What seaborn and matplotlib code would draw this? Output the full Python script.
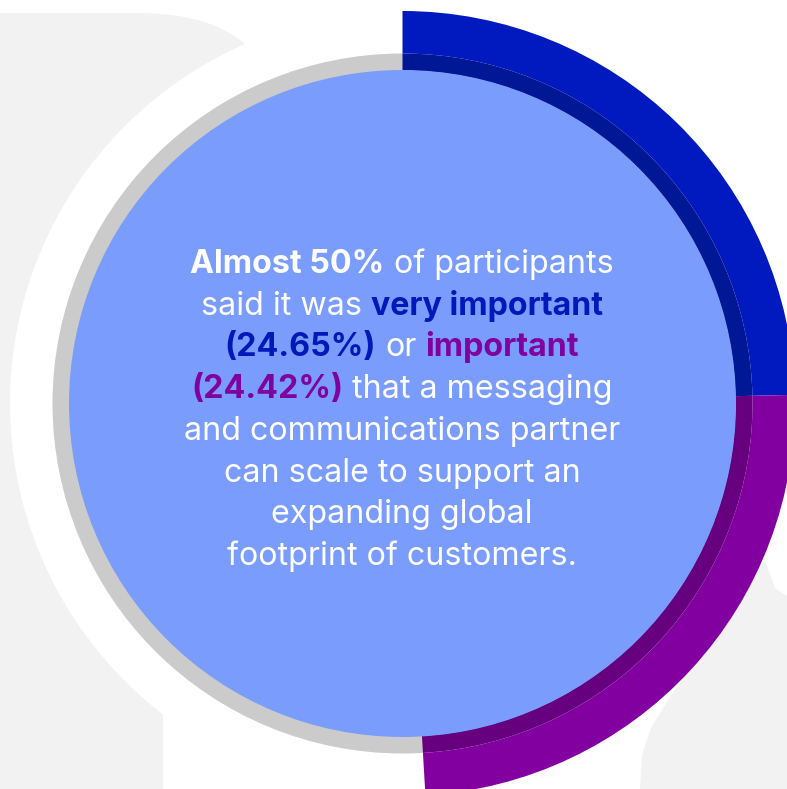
import matplotlib
matplotlib.use("Agg")
import matplotlib.pyplot as plt
from matplotlib.patches import Circle, FancyBboxPatch, Rectangle, Polygon
import seaborn as sns

# shares of respondents (percent)
shares = [24.65, 24.42]
rest = 100 - sum(shares)

arc_colors = ["#001abf", "#8200a0"]
band_colors = ["#001796", "#66007e"]
disc_color = "#7a9cfd"
ring_color = "#cbcbcb"
bg_gray = "#f2f2f2"
c_blue = "#0019b8"
c_purple = "#8000a0"

lines = [
    [("Almost 50%", "bold", "white"), ("of participants", "normal", "white")],
    [("said it was", "normal", "white"), ("very important", "bold", c_blue)],
    [("(%.2f%%)" % shares[0], "bold", c_blue), ("or", "normal", "white"),
     ("important", "bold", c_purple)],
    [("(%.2f%%)" % shares[1], "bold", c_purple), ("that a messaging", "normal", "white")],
    [("and communications partner", "normal", "white")],
    [("can scale to support an", "normal", "white")],
    [("expanding global", "normal", "white")],
    [("footprint of customers.", "normal", "white")],
]

sns.set_style("white")
FONT = ["Inter", "DejaVu Sans"]
plt.rcParams["font.family"] = FONT

W, H = 787, 789
fig = plt.figure(figsize=(W / 100, H / 100), dpi=100)
ax = fig.add_axes([0, 0, 1, 1])


def fy(y):
    # pixel row -> data y
    return H - y


cx, cy = 402.5, fy(403.5)

# background shapes
ax.add_patch(FancyBboxPatch((-200, fy(400)), 490, 387, boxstyle="round,pad=0,rounding_size=150",
                            fc=bg_gray, ec="none", zorder=0))
ax.add_patch(Rectangle((0, 0), 163, fy(380), fc=bg_gray, ec="none", zorder=0))
leg = [(765, 560), (750, 583), (722, 622), (694, 662), (668, 700), (651, 728),
       (642, 755), (640, 789), (787, 789), (787, 596), (775, 588)]
ax.add_patch(Polygon([(x, fy(y)) for x, y in leg], closed=True, fc=bg_gray, ec="none", zorder=0))
ax.add_patch(Circle((cx, cy), 392.5, fc="white", ec="none", zorder=1))

# gray ring behind the disc
ax.add_patch(Circle((cx, cy), 350, fc=ring_color, ec="none", zorder=2))

vals = shares + [rest]
ax.pie(vals, radius=350, center=(cx, cy), startangle=90, counterclock=False,
       colors=band_colors + ["none"], frame=True,
       wedgeprops=dict(width=17, linewidth=0, zorder=3))
ax.pie(vals, radius=392.5, center=(cx, cy), startangle=90, counterclock=False,
       colors=arc_colors + ["none"], frame=True,
       wedgeprops=dict(width=42.5, linewidth=0, zorder=3))

ax.add_patch(Circle((cx, cy), 333.5, fc=disc_color, ec="none", zorder=4))

ax.set_xlim(0, W)
ax.set_ylim(0, H)
ax.set_aspect("equal")
ax.axis("off")

renderer = fig.canvas.get_renderer()


def text_width(s, weight, size):
    t = ax.text(0, 0, s, fontsize=size, fontweight=weight)
    w = t.get_window_extent(renderer).width
    t.remove()
    return w


# font size so that the widest line spans ~434 px
fs = 18 * 434 / text_width(lines[4][0][0], "normal", 18)
space = text_width("a a", "normal", fs) - text_width("aa", "normal", fs)

tx = 402
base0, step = 273, 41.7
for i, segs in enumerate(lines):
    widths = [text_width(s, w, fs) for s, w, _ in segs]
    total = sum(widths) + space * (len(segs) - 1)
    x = tx - total / 2
    for (s, w, c), wd in zip(segs, widths):
        ax.text(x, fy(base0 + step * i), s, fontsize=fs, fontweight=w, color=c,
                ha="left", va="baseline", zorder=5)
        x += wd + space

fig.savefig("out.png", dpi=100, facecolor="white")
